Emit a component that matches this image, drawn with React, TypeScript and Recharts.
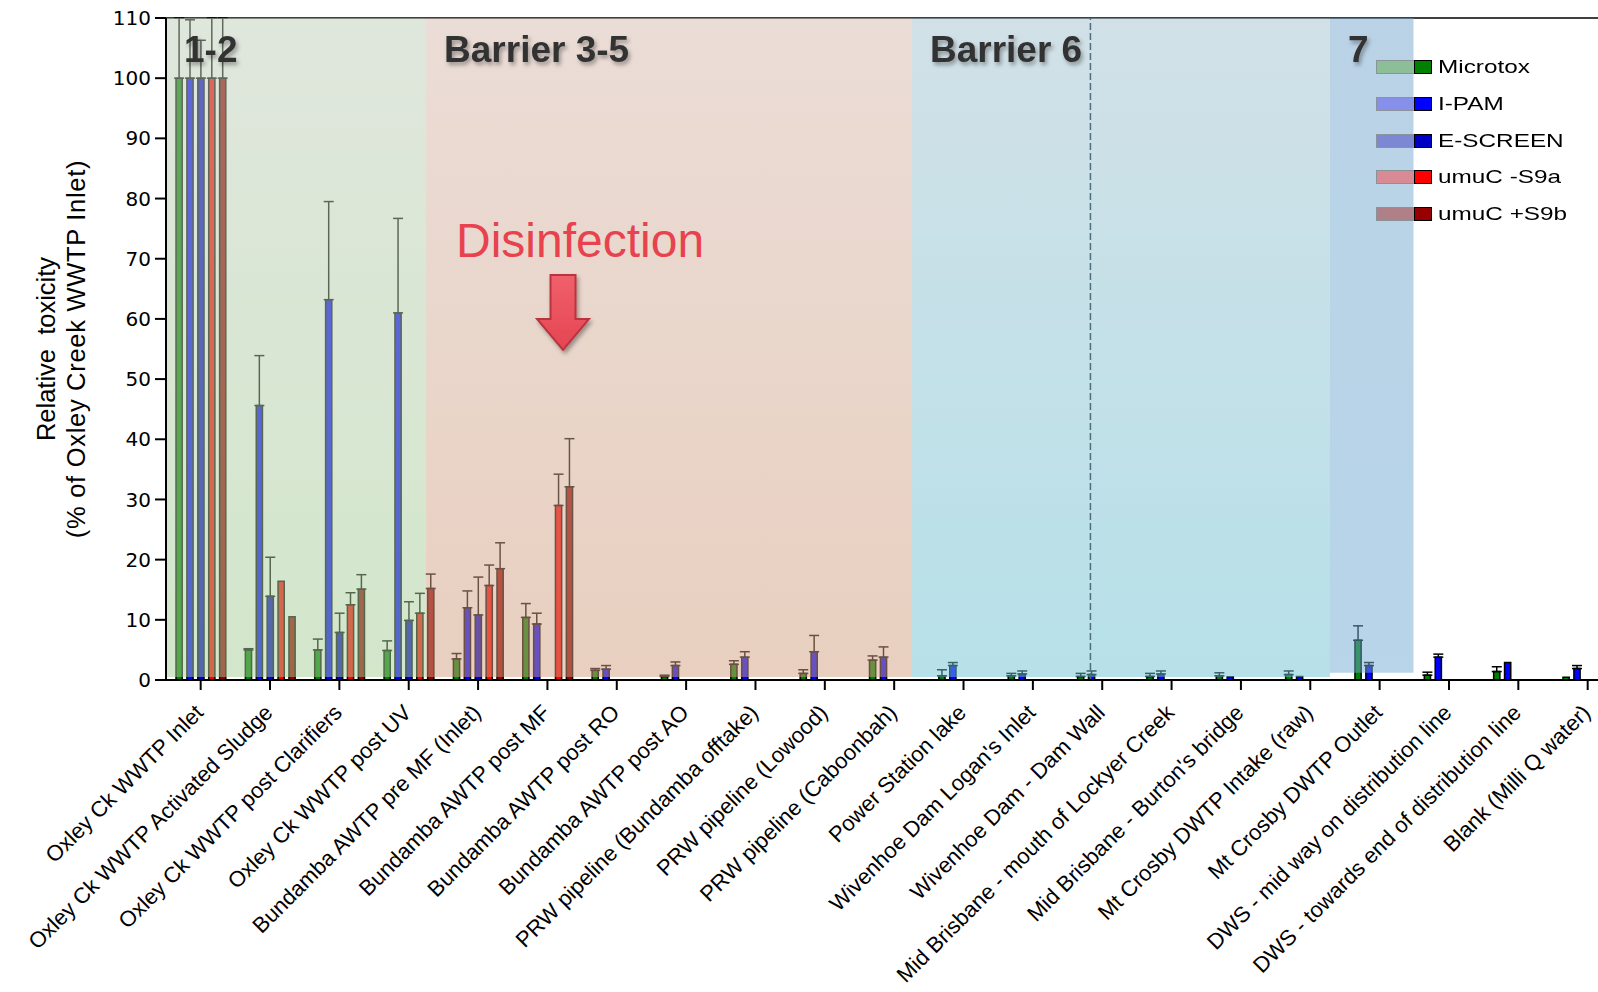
import React from "react";
import {
  Bar,
  BarChart,
  ErrorBar,
  Legend,
  ReferenceArea,
  ReferenceDot,
  ReferenceLine,
  XAxis,
  YAxis,
} from "recharts";

const sites = [
  "Oxley Ck WWTP Inlet",
  "Oxley Ck WWTP Activated Sludge",
  "Oxley Ck WWTP post Clarifiers",
  "Oxley Ck WWTP post UV",
  "Bundamba AWTP pre MF (Inlet)",
  "Bundamba AWTP post MF",
  "Bundamba AWTP post RO",
  "Bundamba AWTP post AO",
  "PRW pipeline (Bundamba offtake)",
  "PRW pipeline (Lowood)",
  "PRW pipeline (Caboonbah)",
  "Power Station lake",
  "Wivenhoe Dam Logan's Inlet",
  "Wivenhoe Dam - Dam Wall",
  "Mid Brisbane - mouth of Lockyer Creek",
  "Mid Brisbane - Burton's bridge",
  "Mt Crosby DWTP Intake (raw)",
  "Mt Crosby DWTP Outlet",
  "DWS - mid way on distribution line",
  "DWS - towards end of distribution line",
  "Blank (Milli Q water)",
];

// relative toxicity, % of Oxley Creek WWTP inlet
const microtox = [100, 5.0, 5.0, 4.9, 3.5, 10.4, 1.6, 0.6, 2.6, 1.1, 3.3, 0.7, 0.7, 0.6, 0.6, 0.7, 0.9, 6.6, 0.8, 1.4, 0.45];
const microtoxErr = [10, 0.2, 1.8, 1.6, 0.9, 2.3, 0.3, 0.2, 0.6, 0.6, 0.7, 1.0, 0.4, 0.5, 0.5, 0.5, 0.6, 2.4, 0.5, 0.8, null];
const ipam = [100, 45.6, 63.2, 61.0, 12.0, 9.3, 1.8, 2.4, 3.8, 4.7, 3.8, 2.4, 1.0, 0.9, 1.0, 0.55, 0.6, 2.4, 3.8, 2.9, 1.9];
const ipamErr = [9.7, 8.3, 16.3, 15.7, 2.8, 1.8, 0.6, 0.6, 0.9, 2.7, 1.7, 0.5, 0.5, 0.6, 0.5, null, null, 0.5, 0.5, null, 0.5];
const escreen = [100, 13.9, 7.9, 9.9, 10.8, null, null, null, null, null, null, null, null, null, null, null, null, null, null, null, null];
const escreenErr = [6.3, 6.5, 3.2, 3.1, 6.3, null, null, null, null, null, null, null, null, null, null, null, null, null, null, null, null];
const umucA = [100, 16.4, 12.5, 11.1, 15.7, 29.0, null, null, null, null, null, null, null, null, null, null, null, null, null, null, null];
const umucAErr = [10, null, 2.0, 3.3, 3.4, 5.2, null, null, null, null, null, null, null, null, null, null, null, null, null, null, null];
const umucB = [100, 10.5, 15.1, 15.2, 18.5, 32.1, null, null, null, null, null, null, null, null, null, null, null, null, null, null, null];
const umucBErr = [10, null, 2.4, 2.4, 4.3, 8.0, null, null, null, null, null, null, null, null, null, null, null, null, null, null, null];

const yTicks = [0, 10, 20, 30, 40, 50, 60, 70, 80, 90, 100, 110];

// treatment barrier zones, measured in category widths from the y axis
const zoneTitles = ["1-2", "Barrier 3-5", "Barrier 6", "7"];
const zoneStarts = [0, 3.75, 10.757, 16.784];
const zoneEnds = [3.75, 10.757, 16.784, 17.988];
const zoneFills = ["url(#zoneGreen)", "url(#zonePink)", "url(#zoneCyan)", "url(#zoneBlue)"];

const SERIES = [
  { key: "microtox", name: "Microtox", color: "#008000", light: "#8cbf98" },
  { key: "ipam", name: "I-PAM", color: "#0000ff", light: "#8690ea" },
  { key: "escreen", name: "E-SCREEN", color: "#0000c4", light: "#7c88d4" },
  { key: "umucA", name: "umuC -S9a", color: "#ff0000", light: "#d98b95" },
  { key: "umucB", name: "umuC +S9b", color: "#960000", light: "#b08089" },
];

const upOnly = (e: number | null) => (e == null ? null : [0, e]);

const data = sites.map((name, i) => ({
  name,
  microtox: microtox[i],
  microtoxErr: upOnly(microtoxErr[i]),
  ipam: ipam[i],
  ipamErr: upOnly(ipamErr[i]),
  escreen: escreen[i],
  escreenErr: upOnly(escreenErr[i]),
  umucA: umucA[i],
  umucAErr: upOnly(umucAErr[i]),
  umucB: umucB[i],
  umucBErr: upOnly(umucBErr[i]),
}));

// hidden linear axis spans the same width as the 21 category bands
const POS_MAX = sites.length - 1;
const toPos = (u: number) => (u * POS_MAX) / sites.length;

const SANS = "'Liberation Sans', Arial, sans-serif";
const TICK_FONT = "'DejaVu Sans', sans-serif";

const SiteTick = ({ x, y, payload }: any) => (
  <text
    x={x + 4}
    y={y + 22}
    transform={`rotate(-45, ${x + 4}, ${y + 22})`}
    textAnchor="end"
    fontFamily={SANS}
    fontSize={22}
    fill="#000"
  >
    {payload.value}
  </text>
);

const ZoneTitle = ({ viewBox, text }: any) => (
  <text
    x={viewBox.x + 18}
    y={viewBox.y + 44}
    fontFamily={SANS}
    fontWeight="bold"
    fontSize={37}
    fill="#333"
    filter="url(#softShadow)"
  >
    {text}
  </text>
);

const YTitle = ({ viewBox }: any) => {
  const cy = viewBox.y + viewBox.height / 2;
  return (
    <g fontFamily={SANS} fontSize={25.5} fill="#000" textAnchor="middle">
      <text x={55} y={cy} transform={`rotate(-90, 55, ${cy})`} style={{ whiteSpace: "pre" }}>
        {"Relative  toxicity"}
      </text>
      <text x={85} y={cy} transform={`rotate(-90, 85, ${cy})`} letterSpacing={0.7}>
        (% of Oxley Creek WWTP Inlet)
      </text>
    </g>
  );
};

// "Disinfection" callout with down arrow, anchored at arrow top centre
const DisinfectionMark = ({ cx, cy }: any) => (
  <g>
    <text x={cx - 107} y={cy - 18} fontFamily={SANS} fontSize={48} fill="#e8424f">
      Disinfection
    </text>
    <path
      d={`M${cx - 12.5},${cy} h25 v44 h13.5 L${cx},${cy + 75} L${cx - 26},${cy + 44} h13.5 Z`}
      fill="url(#arrowFill)"
      stroke="#b8353f"
      strokeWidth={2}
      filter="url(#softShadow)"
    />
  </g>
);

const LegendBox = () => (
  <div style={{ fontFamily: SANS, fontSize: 19, color: "#000" }}>
    {SERIES.map((s) => (
      <div key={s.key} style={{ display: "flex", alignItems: "center", height: 36.7 }}>
        <span
          style={{
            display: "inline-block",
            width: 37,
            height: 12,
            background: s.light,
            border: "1px solid #8a929a",
            borderRight: "none",
          }}
        />
        <span
          style={{
            display: "inline-block",
            width: 16,
            height: 12,
            background: s.color,
            border: "1px solid #000",
          }}
        />
        <span
          style={{
            display: "inline-block",
            marginLeft: 6,
            transform: "scaleX(1.28)",
            transformOrigin: "left center",
            whiteSpace: "nowrap",
          }}
        >
          {s.name}
        </span>
      </div>
    ))}
  </div>
);

export default function App() {
  return (
    <div
      style={{
        position: "absolute",
        left: 0,
        top: 0,
        width: 1598,
        height: 992,
        overflow: "hidden",
        background: "#fff",
      }}
    >
      <BarChart
        width={1640}
        height={992}
        data={data}
        margin={{ top: 18, right: 17.65, left: 106, bottom: 62 }}
        barSize={6.2}
        barGap={4.7}
      >
        <defs>
          <linearGradient id="zoneGreen" x1="0" y1="0" x2="0" y2="1">
            <stop offset="0%" stopColor="rgb(192,206,186)" stopOpacity={0.5} />
            <stop offset="100%" stopColor="rgb(166,206,150)" stopOpacity={0.5} />
          </linearGradient>
          <linearGradient id="zonePink" x1="0" y1="0" x2="0" y2="1">
            <stop offset="0%" stopColor="rgb(214,186,174)" stopOpacity={0.5} />
            <stop offset="100%" stopColor="rgb(210,160,128)" stopOpacity={0.5} />
          </linearGradient>
          <linearGradient id="zoneCyan" x1="0" y1="0" x2="0" y2="1">
            <stop offset="0%" stopColor="rgb(164,194,208)" stopOpacity={0.5} />
            <stop offset="100%" stopColor="rgb(110,194,210)" stopOpacity={0.5} />
          </linearGradient>
          <linearGradient id="zoneBlue" x1="0" y1="0" x2="0" y2="1">
            <stop offset="0%" stopColor="rgb(118,166,206)" stopOpacity={0.5} />
            <stop offset="100%" stopColor="rgb(112,170,210)" stopOpacity={0.5} />
          </linearGradient>
          <linearGradient id="arrowFill" x1="0" y1="0" x2="0" y2="1">
            <stop offset="0%" stopColor="#f0606b" />
            <stop offset="100%" stopColor="#e54552" />
          </linearGradient>
          <filter id="softShadow" x="-20%" y="-20%" width="150%" height="160%">
            <feDropShadow dx="2" dy="3" stdDeviation="2.2" floodColor="#000" floodOpacity="0.35" />
          </filter>
        </defs>

        <XAxis xAxisId="pos" type="number" domain={[0, POS_MAX]} allowDataOverflow hide />

        <ReferenceLine y={110} stroke="#000" strokeWidth={1.5} zIndex={250} />

        {SERIES.map((s) => (
          <Bar
            key={s.key}
            dataKey={s.key}
            name={s.name}
            fill={s.color}
            stroke="#000"
            strokeWidth={1.5}
            isAnimationActive={false}
            zIndex={300}
          >
            <ErrorBar dataKey={`${s.key}Err`} width={5} stroke="#000" strokeWidth={1.5} direction="y" />
          </Bar>
        ))}

        {zoneTitles.map((t, i) => (
          <ReferenceArea
            key={t}
            xAxisId="pos"
            x1={toPos(zoneStarts[i])}
            x2={toPos(zoneEnds[i])}
            y1={i === 3 ? 1.2 : 0.5}
            y2={110}
            fill={zoneFills[i]}
            fillOpacity={1}
            stroke="none"
            zIndex={400}
            label={<ZoneTitle text={t} />}
          />
        ))}

        <ReferenceLine
          xAxisId="pos"
          x={toPos(13.33)}
          stroke="#4f6f7c"
          strokeWidth={1.5}
          strokeDasharray="7 3"
          zIndex={410}
        />

        <ReferenceDot
          xAxisId="pos"
          x={toPos(5.725)}
          y={67.3}
          r={1}
          zIndex={420}
          shape={(p: any) => <DisinfectionMark {...p} />}
        />

        <XAxis
          dataKey="name"
          interval={0}
          height={250}
          tick={<SiteTick />}
          tickSize={10}
          axisLine={{ stroke: "#000", strokeWidth: 2 }}
          tickLine={{ stroke: "#000", strokeWidth: 2 }}
        />
        <YAxis
          width={60}
          domain={[0, 110]}
          ticks={yTicks}
          interval={0}
          allowDataOverflow
          tickSize={11}
          tickMargin={4}
          tick={{ fontFamily: TICK_FONT, fontSize: 20, fill: "#000" }}
          axisLine={{ stroke: "#000", strokeWidth: 2 }}
          tickLine={{ stroke: "#000", strokeWidth: 2 }}
          label={<YTitle />}
        />

        <Legend
          layout="vertical"
          align="center"
          verticalAlign="middle"
          wrapperStyle={{ left: 1376, top: 49, width: 222 }}
          content={<LegendBox />}
        />
      </BarChart>
    </div>
  );
}
